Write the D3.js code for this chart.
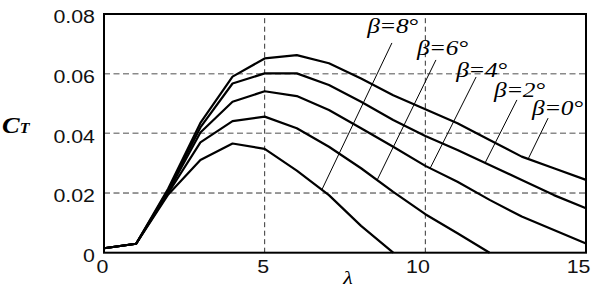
<!DOCTYPE html>
<html>
<head>
<meta charset="utf-8">
<script src="https://cdn.jsdelivr.net/npm/d3@7"></script>
<style>
  body { margin: 0; background: #fff; }
  svg { display: block; }
</style>
</head>
<body>
<script>
// tip speed ratio on x, thrust coefficient on y, one curve per pitch angle
const lambdas = [0, 1, 2, 3, 4, 5, 6, 7, 8, 9, 10, 11, 12, 13, 14, 15];

const ctBeta0 = [0.0015, 0.003, 0.0215, 0.0435, 0.059, 0.0651, 0.0662, 0.0635, 0.0584, 0.0528, 0.0481, 0.0434, 0.0378, 0.0322, 0.0283, 0.0244];
const ctBeta2 = [0.0015, 0.003, 0.021, 0.042, 0.0567, 0.0601, 0.0601, 0.0562, 0.0506, 0.0445, 0.0391, 0.0344, 0.0294, 0.0244, 0.0193, 0.0149];
const ctBeta4 = [0.0015, 0.003, 0.0205, 0.0403, 0.0506, 0.0541, 0.0525, 0.0478, 0.0417, 0.0355, 0.0291, 0.0238, 0.0177, 0.0121, 0.0076, 0.0031];
const ctBeta6 = [0.0015, 0.003, 0.020, 0.0370, 0.0441, 0.0456, 0.0417, 0.0355, 0.0283, 0.0204, 0.0129, 0.0065, 0.0];
const ctBeta8 = [0.0015, 0.003, 0.0195, 0.0311, 0.0366, 0.0348, 0.0275, 0.0193, 0.0090, 0.0];

const betaLabels = ["β=0°", "β=2°", "β=4°", "β=6°", "β=8°"];
// label anchor (lambda, CT), leader line start (lambda, CT), leader end lambda on the curve
const labelLam   = [13.32, 12.14, 10.96, 9.74, 8.19];
const labelCt    = [0.0461, 0.0522, 0.0589, 0.0662, 0.0736];
const leadLam    = [13.82, 12.85, 11.58, 10.33, 8.96];
const leadCt     = [0.0451, 0.0512, 0.0589, 0.0646, 0.0703];
const leadEndLam = [13.2, 11.86, 10.15, 8.5, 6.78];

const xTicks = [0, 5, 10, 15];
const yTicks = [0, 0.02, 0.04, 0.06, 0.08];
const xGrid = [5, 10];
const yGrid = [0.02, 0.04, 0.06];

const WIDTH = 594, HEIGHT = 289;
const margin = {top: 14, right: 8, bottom: 36.3, left: 104};
const width = WIDTH - margin.left - margin.right,
      height = HEIGHT - margin.top - margin.bottom;
const stretch = 1.15; // the reference text is a little wide

const series = [ctBeta0, ctBeta2, ctBeta4, ctBeta6, ctBeta8];

const svg = d3.select("body").append("svg")
    .attr("width", WIDTH)
    .attr("height", HEIGHT);

const x = d3.scaleLinear().domain([0, 15]).range([margin.left, margin.left + width]);
const y = d3.scaleLinear().domain([0, 0.08]).range([margin.top + height, margin.top]);

// dashed grid
svg.selectAll(".hgrid").data(yGrid).enter().append("line")
    .attr("x1", x(0)).attr("x2", x(15))
    .attr("y1", d => y(d)).attr("y2", d => y(d))
    .attr("stroke", d => d === 0.02 ? "#333" : "#8a8a8a")
    .attr("stroke-width", d => d === 0.02 ? 1 : 1.5)
    .attr("stroke-dasharray", "6,3.5");

svg.selectAll(".vgrid").data(xGrid).enter().append("line")
    .attr("x1", d => x(d)).attr("x2", d => x(d))
    .attr("y1", y(0)).attr("y2", y(0.08))
    .attr("stroke", "#333")
    .attr("stroke-width", 1)
    .attr("stroke-dasharray", "5,3.5");

// curves
const line = d3.line()
    .x((d, i) => x(lambdas[i]))
    .y(d => y(d));

svg.selectAll(".curve").data(series).enter().append("path")
    .attr("d", d => line(d))
    .attr("fill", "none")
    .attr("stroke", "#000")
    .attr("stroke-width", 2.2)
    .attr("stroke-linejoin", "round");

// value of a curve at any lambda, for placing the leader line end on it
function ctAt(s, lam) {
    const i = Math.min(Math.floor(lam), s.length - 2);
    const t = lam - lambdas[i];
    return s[i] + (s[i + 1] - s[i]) * t;
}

svg.selectAll(".leader").data(betaLabels).enter().append("line")
    .attr("x1", (d, i) => x(leadLam[i]))
    .attr("y1", (d, i) => y(leadCt[i]))
    .attr("x2", (d, i) => x(leadEndLam[i]))
    .attr("y2", (d, i) => y(ctAt(series[i], leadEndLam[i])))
    .attr("stroke", "#000")
    .attr("stroke-width", 1);

svg.selectAll(".blabel").data(betaLabels).enter().append("text")
    .attr("transform", (d, i) => "translate(" + x(labelLam[i]) + "," + y(labelCt[i]) + ") scale(" + stretch + ",1)")
    .attr("font-family", "'Liberation Serif', 'Times New Roman', serif")
    .attr("font-style", "italic")
    .attr("font-size", 22)
    .attr("letter-spacing", -0.4)
    .text(d => d);

// frame
svg.append("rect")
    .attr("x", x(0)).attr("y", y(0.08))
    .attr("width", width).attr("height", height)
    .attr("fill", "none")
    .attr("stroke", "#000")
    .attr("stroke-width", 2);

// tick labels
svg.selectAll(".ylab").data(yTicks).enter().append("text")
    .attr("transform", d => "translate(95," + (y(d) + 9.3) + ") scale(" + stretch + ",1)")
    .attr("text-anchor", "end")
    .attr("font-family", "'Liberation Sans', Arial, sans-serif")
    .attr("font-size", 18.6)
    .attr("fill", "#111")
    .text(d => d === 0 ? "0" : d.toFixed(2));

svg.selectAll(".xlab").data(xTicks).enter().append("text")
    .attr("transform", d => "translate(" + (x(d) + 4.5) + ",273) scale(" + stretch + ",1)")
    .attr("text-anchor", "end")
    .attr("font-family", "'Liberation Sans', Arial, sans-serif")
    .attr("font-size", 18.6)
    .attr("fill", "#111")
    .text(d => d);

// axis titles
const ctTitle = svg.append("text")
    .attr("transform", "translate(2,133) scale(" + stretch + ",1)")
    .attr("font-family", "'Liberation Serif', 'Times New Roman', serif")
    .attr("font-style", "italic")
    .attr("font-weight", "bold")
    .attr("font-size", 23);
ctTitle.append("tspan").text("C");
ctTitle.append("tspan").attr("font-size", 14).attr("dy", 0).text("T");

svg.append("text")
    .attr("transform", "translate(348,284) scale(" + stretch + ",1)")
    .attr("text-anchor", "middle")
    .attr("font-family", "'Liberation Serif', 'Times New Roman', serif")
    .attr("font-style", "italic")
    .attr("font-size", 19)
    .text("λ");
</script>
</body>
</html>
